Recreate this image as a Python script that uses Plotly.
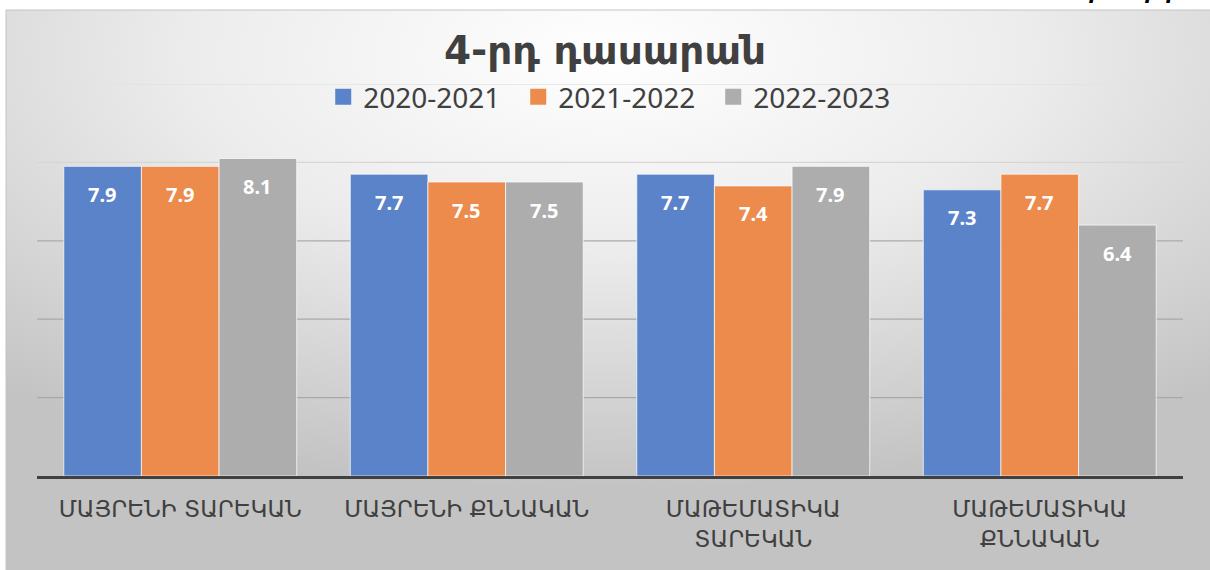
import base64
import plotly.graph_objects as go

categories = ["ՄԱՅՐԵՆԻ ՏԱՐԵԿԱՆ", "ՄԱՅՐԵՆԻ ՔՆՆԱԿԱՆ", "ՄԱԹԵՄԱՏԻԿԱ<br>ՏԱՐԵԿԱՆ", "ՄԱԹԵՄԱՏԻԿԱ<br>ՔՆՆԱԿԱՆ"]
years = ["2020-2021", "2021-2022", "2022-2023"]
y2020 = [7.9, 7.7, 7.7, 7.3]
y2021 = [7.9, 7.5, 7.4, 7.7]
y2022 = [8.1, 7.5, 7.9, 6.4]
grid_vals = [2, 4, 6, 8, 10]
grid_cols = ["#a8a8a8", "#a8a8a8", "#ababab", "#d6d6d6", "#e2e2e2"]

colors = ["#5b83c9", "#ec8b4b", "#adadad"]
series = [y2020, y2021, y2022]

W, H = 1210, 570
ML, MR, MT, MB = 37, 27, 84, 94
pw = W - ML - MR
ph = H - MT - MB
bargap = 0.187
bar_px = pw / len(categories) * (1 - bargap) / len(series)

# radial gradient backdrop as svg
svg = f"""<svg xmlns='http://www.w3.org/2000/svg' width='1204' height='560'>
<defs><radialGradient id='g' cx='50%' cy='8%' r='78%' fx='50%' fy='8%'>
<stop offset='0' stop-color='#ffffff'/><stop offset='0.45' stop-color='#ececec'/>
<stop offset='1' stop-color='#c3c3c3'/></radialGradient></defs>
<rect width='1204' height='560' fill='url(#g)'/></svg>"""
src = "data:image/svg+xml;base64," + base64.b64encode(svg.encode()).decode()

def px_x(p):
    return (p - ML) / pw

def px_y(p):
    return (H - MB - p) / ph

fig = go.Figure()
for name, vals, c in zip(years, series, colors):
    fig.add_trace(go.Bar(x=categories, y=vals, name=name, marker_color=c,
                         marker_line=dict(color="rgba(255,255,255,0.7)", width=1),
                         showlegend=False, hoverinfo="skip"))
    # legend entry with bigger square
    fig.add_trace(go.Scatter(x=[None], y=[None], mode="markers", name=name,
                             marker=dict(symbol="square", size=17, color=c)))

for i, vals in enumerate(series):
    for cat, v in zip(categories, vals):
        fig.add_annotation(x=cat, y=v, text=f"{v:.1f}", showarrow=False,
                           xshift=(i - 1) * bar_px, yshift=-28,
                           font=dict(family="Noto Sans", size=20, color="white", weight="bold"))

for gv, gc in zip(grid_vals, grid_cols):
    fig.add_shape(type="line", xref="paper", x0=0, x1=1, yref="y", y0=gv, y1=gv,
                  line=dict(color=gc, width=1.3), layer="below")

fig.add_annotation(text="Գծապատկեր 7", xref="paper", yref="paper", x=px_x(1203), y=px_y(6),
                   xanchor="right", yanchor="bottom", showarrow=False,
                   font=dict(family="DejaVu Sans", size=20, color="#000000", weight="bold", style="italic"))

fig.add_shape(type="rect", xref="paper", yref="paper", x0=px_x(6), x1=px_x(1212), y0=px_y(572), y1=px_y(10),
              line=dict(color="#c4c4c4", width=1), layer="below")

fig.add_layout_image(source=src, xref="paper", yref="paper", x=px_x(6), y=px_y(10),
                     sizex=px_x(1210) - px_x(6), sizey=px_y(10) - px_y(570),
                     xanchor="left", yanchor="top", sizing="stretch", layer="below")

fig.update_layout(
    width=W, height=H,
    margin=dict(l=ML, r=MR, t=MT, b=MB),
    paper_bgcolor="white", plot_bgcolor="rgba(0,0,0,0)",
    barmode="group", bargap=bargap, bargroupgap=0,
    title=dict(text="<b>4-րդ դասարան</b>", x=0.5, xanchor="center", y=1 - 50 / H, yanchor="middle",
               font=dict(family="DejaVu Sans", size=39, color="#404040")),
    legend=dict(orientation="h", x=0.505, xanchor="center", y=px_y(97), yanchor="middle",
                font=dict(family="Noto Sans", size=28, color="#404040"),
                bgcolor="rgba(0,0,0,0)", itemwidth=30, entrywidth=150, tracegroupgap=0),
    xaxis=dict(showline=True, linecolor="#404040", linewidth=3, ticks="", ticklabelstandoff=10,
               tickfont=dict(family="DejaVu Sans", size=23, color="#404040"), fixedrange=True),
    yaxis=dict(range=[0, 10], showgrid=False, showticklabels=False, zeroline=False, fixedrange=True),
)

fig.write_html("out.html", config={"displayModeBar": False},
               post_script="document.body.style.margin='0';")
